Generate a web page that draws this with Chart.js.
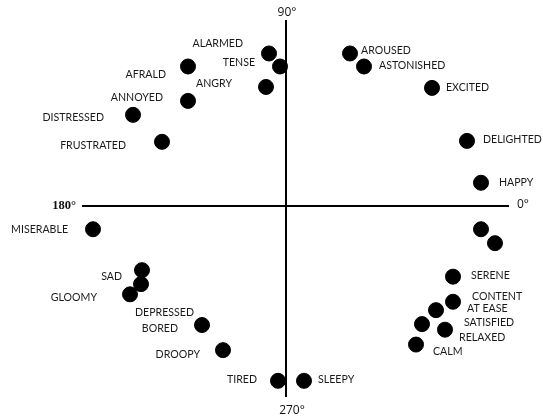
<!DOCTYPE html>
<html>
<head>
<meta charset="utf-8">
<script src="https://cdn.jsdelivr.net/npm/chart.js@4/dist/chart.umd.min.js"></script>
<style>
  html, body { margin: 0; padding: 0; background: #fff; }
  #wrap { width: 543px; height: 419px; position: relative; }
</style>
</head>
<body>
<div id="wrap"><canvas id="circumplex"></canvas></div>
<script>
// emotion words (empty = dot without a label)
const emotions = [
  "ALARMED", "TENSE", "AFRALD", "ANGRY", "ANNOYED", "DISTRESSED", "FRUSTRATED",
  "AROUSED", "ASTONISHED", "EXCITED", "DELIGHTED", "HAPPY",
  "MISERABLE", "SAD", "DEPRESSED", "GLOOMY", "BORED", "DROOPY", "TIRED", "SLEEPY",
  "", "", "SERENE", "CONTENT", "AT EASE", "SATISFIED", "RELAXED", "CALM"
]
// valence (x) and arousal (y)
const valence = [
  -0.085, -0.03, -0.49, -0.10, -0.49, -0.765, -0.62,
  0.32, 0.39, 0.73, 0.905, 0.975,
  -0.965, -0.72, -0.725, -0.78, -0.42, -0.315, -0.04, 0.09,
  0.975, 1.045, 0.835, 0.835, 0.75, 0.68, 0.795, 0.65
]
const arousal = [
  0.82, 0.75, 0.75, 0.64, 0.565, 0.49, 0.345,
  0.82, 0.75, 0.635, 0.35, 0.125,
  -0.125, -0.345, -0.42, -0.475, -0.64, -0.775, -0.94, -0.94,
  -0.125, -0.2, -0.38, -0.515, -0.56, -0.635, -0.665, -0.745
]
// axis end labels: right, top, left, bottom
const angleLabels = ["0°", "90°", "180°", "270°"]

// where each word sits relative to its dot: [dx, dy, align]
const labelPlace = [
  [-26, -10, "right"], [-25, -4, "right"], [-22, 8, "right"], [-34, -3, "right"],
  [-25, -3, "right"], [-29, 3, "right"], [-36, 4, "right"],
  [11, -3, "left"], [15, -1, "left"], [14, 0, "left"], [16, -1, "left"], [18, 0, "left"],
  [-25, 0, "right"], [-20, 6, "right"], [-6, 28, "left"], [-33, 3, "right"],
  [-24, 4, "right"], [-23, 4, "right"], [-21, -1, "right"], [14, -1, "left"],
  [0, 0, "left"], [0, 0, "left"],
  [18, -1, "left"], [19, -5, "left"], [31, -2, "left"], [42, -2, "left"],
  [14, 8, "left"], [17, 7, "left"]
]

const points = valence.map((v, i) => ({ x: v, y: arousal[i] }))

const axesAndWords = {
  id: "axesAndWords",
  beforeDatasetsDraw(chart) {
    const { ctx, chartArea: a, scales } = chart
    const x0 = scales.x.getPixelForValue(0)
    const y0 = scales.y.getPixelForValue(0)
    ctx.save()
    ctx.strokeStyle = "#000"
    ctx.lineWidth = 2
    ctx.beginPath()
    ctx.moveTo(a.left, y0); ctx.lineTo(a.right, y0)
    ctx.moveTo(x0, a.top); ctx.lineTo(x0, a.bottom)
    ctx.stroke()

    ctx.fillStyle = "#111"
    ctx.textBaseline = "middle"
    ctx.font = "12px 'Open Sans'"
    ctx.textAlign = "left"
    ctx.fillText(angleLabels[0], a.right + 8, y0 - 1)
    ctx.textAlign = "center"
    ctx.fillText(angleLabels[1], x0 + 1, a.top - 7)
    ctx.fillText(angleLabels[3], x0 + 6, a.bottom + 14)
    ctx.font = "bold 12.5px 'Liberation Serif'"
    ctx.textAlign = "right"
    ctx.fillText(angleLabels[2], a.left - 6, y0)
    ctx.restore()
  },
  afterDatasetsDraw(chart) {
    const { ctx } = chart
    const meta = chart.getDatasetMeta(0)
    ctx.save()
    ctx.fillStyle = "#1a1a1a"
    ctx.font = "10.6px Lato"
    ctx.textBaseline = "middle"
    meta.data.forEach((pt, i) => {
      if (!emotions[i]) return
      const [dx, dy, align] = labelPlace[i]
      ctx.textAlign = align
      ctx.fillText(emotions[i], pt.x + dx, pt.y + dy)
    })
    ctx.restore()
  }
}

new Chart(document.getElementById("circumplex"), {
  type: "scatter",
  data: {
    datasets: [{
      data: points,
      backgroundColor: "#000",
      borderColor: "#000",
      pointRadius: 7.5,
      pointHoverRadius: 7.5,
      clip: false
    }]
  },
  options: {
    responsive: true,
    maintainAspectRatio: false,
    animation: false,
    layout: { padding: { left: 82, right: 34, top: 20, bottom: 22 } },
    scales: {
      x: { type: "linear", min: -1.02, max: 1.115, display: false },
      y: { type: "linear", min: -1.027, max: 1, display: false }
    },
    plugins: { legend: { display: false }, tooltip: { enabled: false } }
  },
  plugins: [axesAndWords]
})
</script>
</body>
</html>
